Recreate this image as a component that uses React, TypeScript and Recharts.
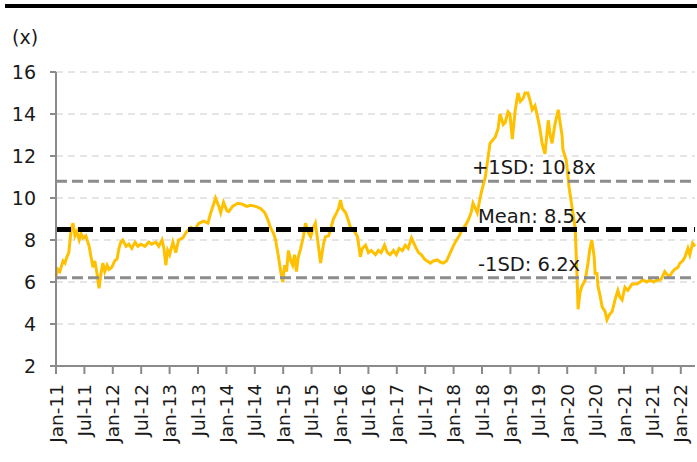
import * as React from "react"
import { LineChart, Line, XAxis, YAxis, CartesianGrid, ReferenceLine } from "recharts"

// months since Jan-11 for each reading
const months = [
  0, 0.4, 0.8, 1.5, 1.9, 2.3, 2.7, 3.2, 3.6, 4.0, 4.4, 4.9, 5.3, 5.7, 6.3, 7.0, 7.4, 7.8, 8.2, 8.6,
  9.1, 9.5, 9.9, 10.3, 10.8, 11.2, 11.8, 12.4, 12.9, 13.3, 13.7, 14.1, 14.8, 15.4, 16.0, 16.7, 17.3, 17.9, 18.8, 19.6,
  20.2, 21.1, 21.7, 22.4, 22.8, 23.2, 23.6, 24.0, 24.7, 25.3, 25.9, 26.8, 27.6, 28.5, 29.3, 30.2, 31.2, 32.1, 32.7, 33.3,
  33.7, 34.4, 34.8, 35.4, 36.1, 36.5, 37.3, 38.4, 39.4, 40.3, 41.1, 42.2, 43.2, 44.1, 44.7, 45.3, 46.0, 46.4, 47.0, 47.4,
  47.9, 48.3, 48.7, 49.1, 49.6, 50.0, 50.4, 50.8, 51.2, 51.7, 52.3, 52.7, 53.4, 53.8, 54.4, 54.8, 55.5, 55.9, 56.5, 56.9,
  57.6, 58.0, 58.6, 59.3, 59.7, 60.1, 60.5, 61.2, 61.8, 62.2, 63.1, 63.7, 64.3, 64.7, 65.4, 66.0, 66.6, 67.5, 68.1, 68.7,
  69.4, 70.0, 70.6, 71.3, 71.9, 72.5, 73.2, 73.8, 74.4, 75.1, 75.5, 76.1, 76.6, 77.2, 77.8, 78.4, 79.1, 79.7, 80.6, 81.2,
  81.8, 82.5, 83.3, 83.9, 84.6, 85.2, 85.8, 86.5, 87.1, 87.7, 88.1, 88.6, 89.0, 89.6, 90.0, 90.7, 91.1, 91.7, 92.4, 92.8,
  93.4, 93.8, 94.5, 94.9, 95.5, 95.9, 96.4, 97.0, 97.6, 98.1, 98.7, 99.1, 99.7, 100.2, 100.6, 101.2, 101.9, 102.3, 102.7, 103.3,
  104.0, 104.4, 104.8, 105.4, 106.1, 106.5, 106.9, 107.1, 107.8, 108.4, 109.0, 109.7, 110.1, 110.3, 110.7, 111.1, 111.8, 112.4, 112.8, 113.2,
  113.7, 113.9, 114.3, 114.5, 114.9, 115.4, 116.0, 116.4, 116.8, 117.5, 118.1, 118.7, 119.1, 119.6, 120.2, 120.8, 121.7, 122.7, 123.4, 124.0,
  124.8, 125.5, 126.3, 127.0, 127.6, 128.0, 128.6, 129.3, 129.7, 130.3, 130.7, 131.4, 131.8, 132.4, 132.9, 133.5, 133.9, 134.5, 135.0,
]

// forward P/E (x)
const peValues = [
  6.3, 6.6, 6.5, 7.0, 6.9, 7.2, 7.4, 8.5, 8.8, 8.2, 8.4, 8.0, 8.3, 8.1, 8.2, 7.7, 7.2, 6.7, 7.0, 6.5,
  5.7, 6.4, 6.9, 6.5, 6.8, 6.6, 6.7, 7.0, 7.1, 7.6, 7.9, 8.0, 7.7, 7.8, 7.6, 7.9, 7.7, 7.8, 7.7, 7.9,
  7.8, 7.9, 7.7, 8.0, 7.6, 6.8, 7.5, 7.3, 7.9, 7.4, 8.0, 8.1, 8.4, 8.6, 8.5, 8.8, 8.9, 8.8, 9.3, 9.7,
  10.0, 9.6, 9.3, 9.8, 9.4, 9.35, 9.6, 9.75, 9.7, 9.6, 9.65, 9.6, 9.5, 9.3, 9.0, 8.6, 8.3, 8.0, 7.2, 6.6,
  6.0, 6.8, 6.5, 7.5, 7.0, 6.8, 7.3, 6.5, 7.2, 7.6, 8.2, 8.8, 8.3, 8.15, 8.6, 8.8, 7.6, 6.9, 7.8, 8.15,
  8.2, 8.5, 9.0, 9.3, 9.5, 9.9, 9.5, 9.3, 8.9, 8.6, 8.4, 8.15, 7.2, 7.6, 7.75, 7.4, 7.5, 7.3, 7.5, 7.4,
  7.75, 7.4, 7.3, 7.5, 7.3, 7.6, 7.5, 7.75, 7.6, 8.1, 7.9, 7.6, 7.4, 7.3, 7.1, 7.0, 6.9, 7.0, 7.05, 6.95,
  6.9, 7.0, 7.4, 7.7, 8.0, 8.2, 8.5, 8.7, 8.95, 9.3, 9.75, 9.5, 9.3, 10.0, 10.4, 11.0, 11.65, 12.6, 12.8, 12.9,
  13.3, 14.0, 13.5, 13.6, 14.1, 14.0, 12.8, 14.15, 15.0, 14.6, 14.75, 15.0, 15.0, 14.6, 14.2, 14.4, 13.7, 13.2, 12.6, 12.1,
  13.7, 13.0, 12.6, 13.5, 14.2, 13.6, 13.0, 12.3, 11.8, 10.5, 9.6, 8.5, 6.1, 4.7, 5.5, 5.8, 6.1, 6.9, 7.6, 8.0,
  7.2, 6.4, 6.4, 5.8, 5.4, 4.8, 4.6, 4.2, 4.4, 4.6, 5.15, 5.6, 5.3, 5.15, 5.75, 5.6, 5.9, 5.9, 6.0, 6.1,
  6.0, 6.1, 6.0, 6.1, 6.1, 6.2, 6.5, 6.3, 6.3, 6.5, 6.6, 6.7, 6.9, 7.0, 7.2, 7.6, 7.3, 7.85, 7.7,
]

const tickLabels = [
  "Jan-11", "Jul-11", "Jan-12", "Jul-12", "Jan-13", "Jul-13", "Jan-14", "Jul-14", "Jan-15", "Jul-15", "Jan-16", "Jul-16",
  "Jan-17", "Jul-17", "Jan-18", "Jul-18", "Jan-19", "Jul-19", "Jan-20", "Jul-20", "Jan-21", "Jul-21", "Jan-22",
]
const yTicks = [2, 4, 6, 8, 10, 12, 14, 16]

const mean = 8.5
const plusSd = 10.8
const minusSd = 6.2

const data = months.map((m, i) => ({ m, pe: peValues[i] }))
const xTicks = tickLabels.map((_, i) => i * 6)

const FONT = "'DejaVu Sans', Verdana, sans-serif"

function XTick(props: any) {
  const { x, y, payload } = props
  return (
    <g transform={`translate(${x},${y})`}>
      <text transform="rotate(-90)" textAnchor="end" dy="0.36em" fontSize={18.5} fill="#1a1a1a" fontFamily={FONT}>
        {tickLabels[Math.round(payload.value / 6)]}
      </text>
    </g>
  )
}

// label sits above its line, ~416px into the plot
const lineLabel = (text: string, dx: number) => (props: any) => {
  const { viewBox } = props
  return (
    <text x={viewBox.x + dx} y={viewBox.y - 7} fontSize={19.5} fill="#1a1a1a" fontFamily={FONT}>
      {text}
    </text>
  )
}

export default function App() {
  return (
    <div style={{ position: "absolute", left: 0, top: 0, width: 697, height: 462, background: "#fff", overflow: "hidden" }}>
      <div style={{ position: "absolute", left: 5, top: 4, width: 692, height: 4, background: "#000" }} />
      <span style={{ position: "absolute", left: 12, top: 26, fontSize: 19, color: "#1a1a1a", fontFamily: FONT }}>(x)</span>
      <LineChart width={697} height={462} data={data} margin={{ top: 72, right: 2, bottom: 16, left: 10 }}>
        <CartesianGrid vertical={false} stroke="#cccccc" strokeDasharray="7 5" />
        <XAxis
          dataKey="m"
          type="number"
          domain={[0, 135]}
          ticks={xTicks}
          interval={0}
          tick={<XTick />}
          tickSize={8}
          tickMargin={10}
          height={80}
          stroke="#8a8a8a"
          strokeWidth={2}
        />
        <YAxis
          domain={[2, 16]}
          ticks={yTicks}
          interval={0}
          width={46}
          tickSize={6}
          tickMargin={14}
          stroke="#8a8a8a"
          strokeWidth={2}
          tick={{ fontSize: 19, fill: "#1a1a1a", fontFamily: FONT }}
        />
        <Line type="linear" dataKey="pe" stroke="#FFC000" strokeWidth={3} dot={false} isAnimationActive={false} />
        <ReferenceLine y={plusSd} stroke="#8c8c8c" strokeWidth={3} strokeDasharray="11 5" label={lineLabel("+1SD: 10.8x", 416)} />
        <ReferenceLine y={mean} stroke="#000" strokeWidth={5} strokeDasharray="15 7" label={lineLabel("Mean: 8.5x", 422)} />
        <ReferenceLine y={minusSd} stroke="#8c8c8c" strokeWidth={3} strokeDasharray="11 5" label={lineLabel("-1SD: 6.2x", 422)} />
      </LineChart>
    </div>
  )
}
